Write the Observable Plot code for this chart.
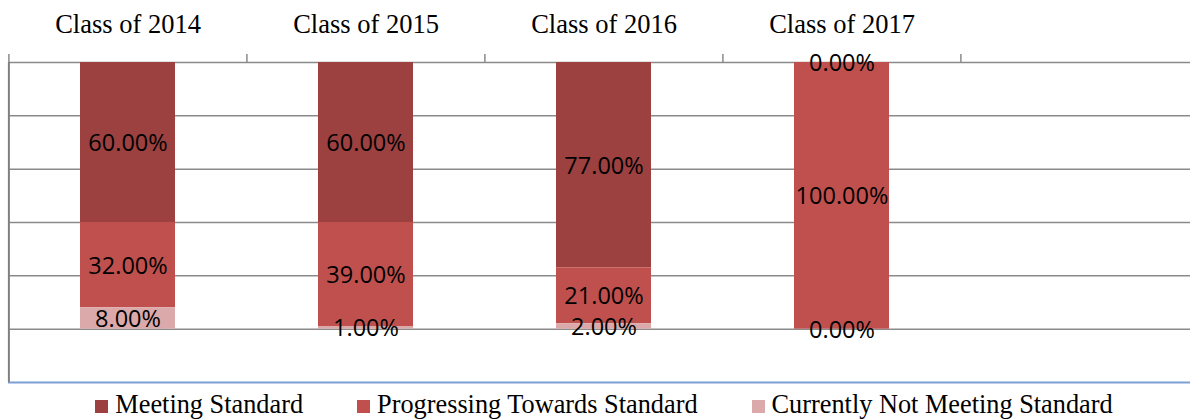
<!DOCTYPE html>
<html><head><meta charset="utf-8">
<script src="https://cdn.jsdelivr.net/npm/d3@7"></script>
<script src="https://cdn.jsdelivr.net/npm/@observablehq/plot@0.6"></script>
<style>
html,body{margin:0;padding:0;background:#fff;}
#chart svg{display:block;overflow:visible;}
#legend{display:flex;justify-content:center;align-items:center;height:30px;padding-left:18px;
  font-family:"Liberation Serif","Times New Roman",serif;font-size:26.3px;color:#000;line-height:30px;}
.item{display:flex;align-items:center;margin:0 27px;}
.sw{width:13px;height:13px;margin-right:7px;margin-top:2px;}
</style></head><body>
<div id="chart"></div>
<div id="legend"></div>
<script>
const categories = ["Class of 2014", "Class of 2015", "Class of 2016", "Class of 2017", ""];
const series = ["Meeting Standard", "Progressing Towards Standard", "Currently Not Meeting Standard"];
const meeting = [60, 60, 77, 0];
const progressing = [32, 39, 21, 100];
const notMeeting = [8, 1, 2, 0];
const colors = ["#9c4040", "#c0504d", "#dba9a9"];
const gridTicks = [0, 20, 40, 60, 80, 100];
const yMin = -20, yMax = 100;

const values = [meeting, progressing, notMeeting];
const data = [];
series.forEach((s, si) => {
  values[si].forEach((v, ci) => data.push({category: categories[ci], series: s, value: v}));
});
const stackOrder = [series[2], series[1], series[0]];

const W = 1190, H = 390;
const xRange = [8, 1199];
const step = (xRange[1] - xRange[0]) / categories.length;

const chart = Plot.plot({
  width: W, height: H,
  marginTop: 62, marginBottom: 8, marginLeft: 8, marginRight: 0,
  x: {type: "band", domain: categories, range: xRange, paddingInner: 0.6, paddingOuter: 0.3, axis: null},
  y: {domain: [yMin, yMax], axis: null},
  color: {domain: series, range: colors},
  marks: [
    Plot.ruleY(gridTicks, {stroke: "#8a8a8a", strokeWidth: 1.5}),
    Plot.ruleY([yMin], {stroke: "#7d9fd3", strokeWidth: 2}),
    Plot.barY(data, {x: "category", y: "value", fill: "series", order: stackOrder}),
    Plot.ruleX(categories, {x: d => d, y1: yMax, y2: yMax, insetTop: -8, dx: -step / 2, stroke: "#8a8a8a", strokeWidth: 1.5}),
    Plot.ruleX([categories[0]], {x: d => d, y1: yMin, y2: yMax, dx: -step / 2, stroke: "#808080", strokeWidth: 2}),
    Plot.text(data, Plot.stackY({x: "category", y: "value", z: "series", order: stackOrder,
      text: d => d.value.toFixed(2) + "%", fill: "#000", fontSize: 23.5, fontFamily: "Open Sans", dy: 1})),
    Plot.axisX({anchor: "top", tickSize: 0, tickPadding: 30, fontSize: 26.5,
      fontFamily: "Liberation Serif", fill: "#000", label: null})
  ]
});
document.getElementById("chart").appendChild(chart);

const legend = document.getElementById("legend");
series.forEach((s, i) => {
  const it = document.createElement("div"); it.className = "item";
  const sw = document.createElement("div"); sw.className = "sw"; sw.style.background = colors[i];
  const t = document.createElement("span"); t.textContent = s;
  it.appendChild(sw); it.appendChild(t); legend.appendChild(it);
});
</script>
</body></html>
